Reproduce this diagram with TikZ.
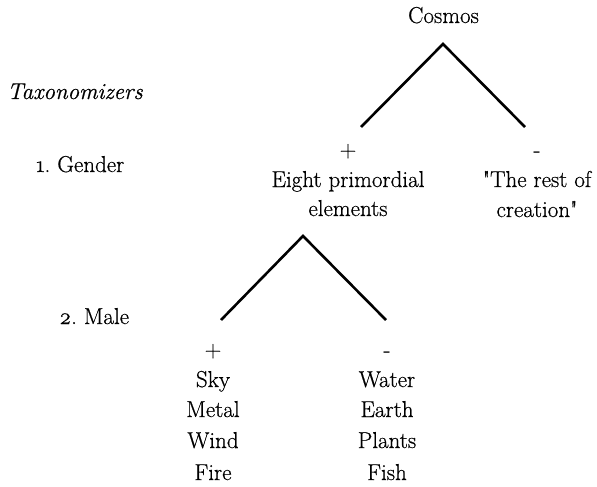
\documentclass[tikz,border=0pt]{standalone}
\usepackage{fontspec}
\setmainfont{Latin Modern Roman}[FakeBold=0.6, Ligatures=TeXOff]
\begin{document}
\begin{tikzpicture}[x=1pt, y=-1pt,
  label/.style={inner sep=0pt, anchor=base, font=\fontsize{23}{28}\selectfont},
  sign/.style={label},
  branch/.style={line width=2.6pt, line cap=butt, line join=miter}]
\useasboundingbox (0,0) rectangle (597,487);

% root
\node[label] (cosmos) at (443.5,23) {Cosmos};

% taxonomizer labels on the left
\node[label, anchor=base west] (tax) at (7,99) {\itshape Taxonomizers};
\node[label, anchor=base west] (gender) at (36,172) {\oldstylenums{1}.\ Gender};
\node[label, anchor=base west] (male) at (59,324) {\oldstylenums{2}.\ Male};

% first split
\coordinate (apexA) at (443,44);
\coordinate (leftA) at (361,127);
\coordinate (rightA) at (525,127);
\draw[branch] (leftA) -- (apexA) -- (rightA);

\node[sign] (plusA) at (348,157) {+};
\node[sign] (minusA) at (537,157) {-};
\node[label] (eight) at (348,187) {Eight primordial};
\node[label] (elements) at (348,216) {elements};
\node[label] (rest) at (537,187) {"The rest of};
\node[label] (creation) at (537,217) {creation"};

% second split
\coordinate (apexB) at (303,236);
\coordinate (leftB) at (221,320);
\coordinate (rightB) at (386,320);
\draw[branch] (leftB) -- (apexB) -- (rightB);

\node[sign] (plusB) at (213,357) {+};
\node[sign] (minusB) at (387,357) {-};

\node[label] (sky) at (213,387) {Sky};
\node[label] (metal) at (213,417) {Metal};
\node[label] (wind) at (213,448) {Wind};
\node[label] (fire) at (213,480) {Fire};

\node[label] (water) at (387,387) {Water};
\node[label] (earth) at (387,417) {Earth};
\node[label] (plants) at (387,448) {Plants};
\node[label] (fish) at (387,480) {Fish};
\end{tikzpicture}
\end{document}
